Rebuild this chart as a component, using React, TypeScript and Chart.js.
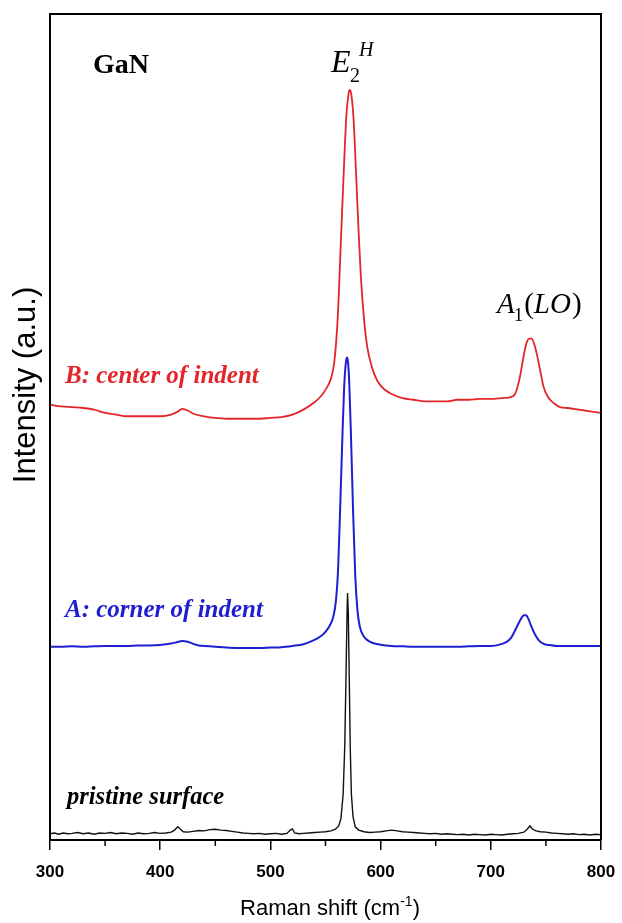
import React, { useEffect, useRef } from 'react';
import { Chart, registerables } from 'chart.js';

Chart.register(...registerables);

const xMin = 300;
const xMax = 800;
const xMajorStep = 100;
const xTicksMinor = [350, 450, 550, 650, 750];

// B: center of indent (red)
const shiftB = [300,310,320,330,340,350,360,370,380,390,400,410,415,420,425,430,440,450,460,470,480,490,500,510,520,530,540,545,550,555,558,561,564,567,569,571,572,573.5,575.5,578,580,582,585,588,592,597,603,610,620,630,640,650,660,670,680,690,700,710,717,722,726,729,732,735,737,739,742,745,748,752,757,763,770,780,790,800];
const intensityB = [52.7,52.5,52.4,52.3,52.1,51.7,51.5,51.3,51.3,51.3,51.3,51.5,51.8,52.2,52.0,51.6,51.3,51.1,51.0,51.0,51.0,51.0,51.1,51.2,51.5,52.1,53.0,53.6,54.5,55.9,57.9,63.0,72.6,82.3,87.8,90.4,90.8,90.2,87.2,79.9,73.8,68.4,63.0,59.6,57.3,55.6,54.6,54.0,53.5,53.3,53.1,53.1,53.1,53.3,53.3,53.4,53.4,53.5,53.6,54.0,55.8,58.0,60.0,60.7,60.7,60.2,58.7,56.7,54.8,53.6,52.9,52.4,52.3,52.1,51.9,51.7];

// A: corner of indent (blue)
const shiftA = [300,310,320,330,340,350,360,370,380,390,400,405,410,415,420,425,430,435,440,450,460,470,480,490,500,510,520,530,538,545,550,554,557,559.5,561.5,563.5,565.5,567,568.5,569.5,570.5,571.5,573,575,577,579,581,584,588,593,600,610,620,630,640,650,660,670,680,690,700,708,714,718,721,724,727,730,732,734,737,740,744,748,753,760,770,780,790,800];
const intensityA = [23.4,23.4,23.45,23.4,23.45,23.5,23.5,23.5,23.55,23.55,23.6,23.7,23.8,23.95,24.1,24.0,23.75,23.55,23.5,23.4,23.3,23.25,23.25,23.25,23.3,23.35,23.5,23.7,24.1,24.6,25.2,26.0,27.0,29.0,33.0,41.0,49.5,55.0,57.8,58.4,57.8,55.5,49.5,40.0,32.0,27.8,25.9,24.8,24.2,23.85,23.65,23.5,23.45,23.4,23.4,23.4,23.4,23.4,23.45,23.5,23.5,23.65,23.95,24.4,25.1,25.9,26.7,27.2,27.2,26.8,25.8,24.9,24.1,23.75,23.6,23.5,23.5,23.5,23.5,23.5];

// pristine surface (black)
const shiftP = [300,304,308,312,316,320,325,330,335,340,345,350,355,360,365,370,375,380,385,390,395,400,405,410,413,416,418,421,425,430,435,440,445,450,455,460,465,470,475,480,485,490,495,500,505,510,515,518,520,522,526,530,535,540,545,550,555,559,562,564,566,567.5,568.5,569.5,570,570.7,571.5,572.5,573.5,575,577,580,585,590,595,600,605,610,615,620,625,630,635,640,645,650,655,660,665,670,675,680,685,690,695,700,705,710,715,720,725,730,733,735.5,738,741,745,750,755,760,765,770,775,780,785,790,795,800];
const intensityP = [0.75,0.85,0.7,0.85,0.75,0.8,0.9,0.75,0.85,0.7,0.85,0.8,0.9,0.75,0.85,0.8,0.7,0.85,0.75,0.8,0.9,0.8,0.85,0.95,1.2,1.6,1.35,1.0,0.95,1.05,1.15,1.1,1.25,1.3,1.2,1.15,1.05,0.95,0.85,0.8,0.75,0.8,0.7,0.75,0.8,0.7,0.8,1.2,1.35,0.85,0.75,0.8,0.85,0.9,0.95,1.0,1.1,1.3,1.7,2.6,5.5,11.5,19.0,27.0,29.9,27.5,20.0,11.0,5.5,2.8,1.6,1.2,1.0,0.9,0.95,1.0,1.1,1.2,1.1,1.0,0.95,0.9,0.85,0.8,0.75,0.8,0.7,0.75,0.7,0.65,0.7,0.6,0.7,0.65,0.6,0.7,0.65,0.6,0.7,0.75,0.8,0.95,1.3,1.7,1.3,1.1,1.0,0.95,0.85,0.8,0.75,0.7,0.75,0.65,0.7,0.6,0.7,0.65];

const RED = '#e2262b';
const BLUE = '#1f1fd2';
const BLACK = '#111111';

const SANS = '"Liberation Sans", Arial, sans-serif';
const SERIF = '"Liberation Serif", "Times New Roman", serif';

type Seg = { t: string; f: string; dy?: number; dx?: number };

function drawSegs(ctx: CanvasRenderingContext2D, x: number, y: number, segs: Seg[], color: string) {
  ctx.fillStyle = color;
  ctx.textBaseline = 'alphabetic';
  ctx.textAlign = 'left';
  let cx = x;
  for (const s of segs) {
    ctx.font = s.f;
    cx += s.dx || 0;
    ctx.fillText(s.t, cx, y + (s.dy || 0));
    cx += ctx.measureText(s.t).width;
  }
}

const overlay = {
  id: 'overlay',
  afterDraw(chart: any) {
    const { ctx, chartArea: ca, scales } = chart;
    const xs = scales.x;
    ctx.save();
    // frame
    ctx.strokeStyle = '#000';
    ctx.lineWidth = 2;
    ctx.beginPath();
    ctx.moveTo(ca.left, ca.bottom);
    ctx.lineTo(ca.left, ca.top);
    ctx.lineTo(ca.right, ca.top);
    ctx.lineTo(ca.right, ca.bottom);
    ctx.stroke();
    // minor ticks
    ctx.lineWidth = 1.5;
    for (const v of xTicksMinor) {
      const px = xs.getPixelForValue(v);
      ctx.beginPath();
      ctx.moveTo(px, ca.bottom);
      ctx.lineTo(px, ca.bottom + 6);
      ctx.stroke();
    }
    // axis titles
    const xt: Seg[] = [
      { t: 'Raman shift (cm', f: `22px ${SANS}` },
      { t: '-1', f: `14px ${SANS}`, dy: -9 },
      { t: ')', f: `22px ${SANS}` },
    ];
    let w = 0;
    for (const s of xt) { ctx.font = s.f; w += ctx.measureText(s.t).width; }
    drawSegs(ctx, 330 - w / 2, 915, xt, '#000');

    ctx.save();
    ctx.translate(35, 385);
    ctx.rotate(-Math.PI / 2);
    ctx.font = `31px ${SANS}`;
    ctx.fillStyle = '#000';
    ctx.textAlign = 'center';
    ctx.textBaseline = 'alphabetic';
    ctx.fillText('Intensity (a.u.)', 0, 0);
    ctx.restore();

    // annotations
    drawSegs(ctx, 93, 73, [{ t: 'GaN', f: `bold 28px ${SERIF}` }], '#000');
    drawSegs(ctx, 331, 72, [{ t: 'E', f: `italic 32px ${SERIF}` }], '#000');
    drawSegs(ctx, 350, 82, [{ t: '2', f: `20px ${SERIF}` }], '#000');
    drawSegs(ctx, 359, 56, [{ t: 'H', f: `italic 20px ${SERIF}` }], '#000');
    drawSegs(ctx, 497, 313, [
      { t: 'A', f: `italic 29px ${SERIF}` },
      { t: '1', f: `19px ${SERIF}`, dy: 8, dx: -1 },
      { t: '(', f: `29px ${SERIF}`, dx: 1 },
      { t: 'LO', f: `italic 29px ${SERIF}` },
      { t: ')', f: `29px ${SERIF}`, dx: 1 },
    ], '#000');
    drawSegs(ctx, 65, 383, [{ t: 'B: center of indent', f: `italic bold 25px ${SERIF}` }], RED);
    drawSegs(ctx, 65, 617, [{ t: 'A: corner of indent', f: `italic bold 25px ${SERIF}` }], BLUE);
    drawSegs(ctx, 67, 804, [{ t: 'pristine surface', f: `italic bold 24.5px ${SERIF}` }], '#000');
    ctx.restore();
  },
};

const zip = (xs: number[], ys: number[]) => xs.map((x, i) => ({ x, y: ys[i] }));

export default function App() {
  const ref = useRef<HTMLCanvasElement>(null);
  useEffect(() => {
    document.body.style.margin = '0';
    const chart = new Chart(ref.current as HTMLCanvasElement, {
      type: 'line',
      data: {
        datasets: [
          { label: 'B: center of indent', data: zip(shiftB, intensityB), borderColor: RED, borderWidth: 1.8, pointRadius: 0, cubicInterpolationMode: 'monotone', fill: false },
          { label: 'A: corner of indent', data: zip(shiftA, intensityA), borderColor: BLUE, borderWidth: 2, pointRadius: 0, cubicInterpolationMode: 'monotone', fill: false },
          { label: 'pristine surface', data: zip(shiftP, intensityP), borderColor: BLACK, borderWidth: 1.4, pointRadius: 0, tension: 0, fill: false },
        ],
      },
      options: {
        animation: false,
        responsive: false,
        devicePixelRatio: 1,
        layout: { autoPadding: false, padding: { left: 50, right: 21, top: 14, bottom: 0 } },
        plugins: { legend: { display: false }, tooltip: { enabled: false } },
        scales: {
          x: {
            type: 'linear',
            min: xMin,
            max: xMax,
            afterFit: (scale: any) => { scale.height = 83; scale.paddingLeft = 0; scale.paddingRight = 0; },
            ticks: {
              stepSize: xMajorStep,
              color: '#000',
              padding: 12,
              font: { family: SANS, size: 17, weight: 'bold' },
            },
            grid: { display: true, drawOnChartArea: false, drawTicks: true, tickLength: 10, color: '#000', lineWidth: 1.5 },
            border: { display: true, color: '#000', width: 2 },
          },
          y: { display: false, min: 0, max: 100 },
        },
      },
      plugins: [overlay],
    } as any);
    return () => chart.destroy();
  }, []);
  return (
    <div style={{ width: 622, height: 923 }}>
      <canvas ref={ref} width={622} height={923} style={{ display: 'block' }} />
    </div>
  );
}
